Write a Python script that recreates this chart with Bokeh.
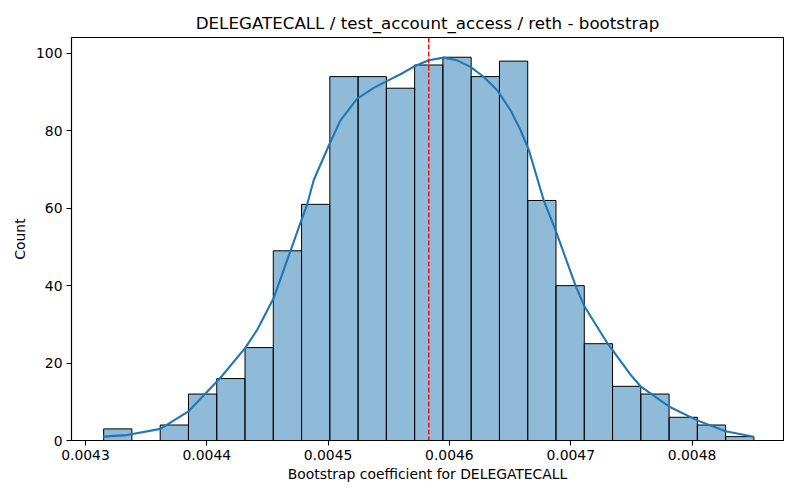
import numpy as np
from bokeh.plotting import figure
from bokeh.models import Span, FixedTicker, PrintfTickFormatter, Range1d
from bokeh.embed import file_html
from bokeh.resources import INLINE

title = "DELEGATECALL / test_account_access / reth - bootstrap"
x_label = "Bootstrap coefficient for DELEGATECALL"
y_label = "Count"

bin_lo = 0.004315
bin_hi = 0.004851
counts = [3, 0, 4, 12, 16, 24, 49, 61, 94, 94, 91, 97, 99, 94, 98, 62, 40, 25, 14, 12, 6, 4, 1]

kde_x = [0.0043146, 0.0043344, 0.0043618, 0.0043852, 0.0044113, 0.0044319, 0.0044416,
         0.0044552, 0.0044690, 0.0044781, 0.0044828, 0.0044882, 0.0045006, 0.0045102,
         0.0045240, 0.0045377, 0.0045487, 0.0045597, 0.0045707, 0.0045830, 0.0045954,
         0.0046064, 0.0046174, 0.0046284, 0.0046394, 0.0046504, 0.0046586, 0.0046655,
         0.0046778, 0.0046880, 0.0047040, 0.0047114, 0.0047301, 0.0047493, 0.0047576,
         0.0047809, 0.0048043, 0.0048276, 0.0048509]
kde_y = [1.0, 1.4, 3.0, 7.6, 16.2, 24.0, 28.6,
         36.8, 49.0, 57.0, 61.0, 67.3, 76.2, 82.7,
         88.3, 91.1, 92.9, 94.6, 96.6, 98.2, 98.9,
         98.2, 96.5, 93.9, 90.5, 85.3, 80.2, 75.0,
         62.0, 53.9, 40.0, 34.6, 25.2, 17.0, 14.0,
         8.8, 5.2, 2.4, 0.95]

mean_value = 0.004583

x_ticks = [0.0043, 0.0044, 0.0045, 0.0046, 0.0047, 0.0048]
y_ticks = [0, 20, 40, 60, 80, 100]

edges = np.linspace(bin_lo, bin_hi, len(counts) + 1)

FONT = "DejaVu Sans"

p = figure(width=784, height=484, output_backend="svg", toolbar_location=None,
           x_range=Range1d(0.0042885, 0.0048754), y_range=Range1d(0, 104.1),
           min_border_left=71, min_border_top=37, min_border_right=1, min_border_bottom=43)

p.title.text = title
p.title.align = "center"
p.title.text_font = FONT
p.title.text_font_size = "16.7px"
p.title.text_font_style = "normal"
p.title.text_color = "black"

p.quad(left=edges[:-1], right=edges[1:], top=counts, bottom=0,
       fill_color="#1f77b4", fill_alpha=0.5, line_color="black", line_width=1)

p.line(kde_x, kde_y, line_color="#1f77b4", line_width=2.1, line_join="round")

p.add_layout(Span(location=mean_value, dimension="height", line_color="red",
                  line_dash="5 2", line_width=1.4))

p.grid.visible = False
p.outline_line_color = "black"
p.outline_line_width = 1.1
p.outline_line_alpha = 1

for ax in (p.xaxis[0], p.yaxis[0]):
    ax.axis_line_width = 1.1
    ax.major_tick_out = 5
    ax.major_tick_in = 0
    ax.major_tick_line_width = 1.1
    ax.minor_tick_out = 0
    ax.minor_tick_in = 0
    ax.major_label_text_font = FONT
    ax.major_label_text_font_size = "13.9px"
    ax.major_label_text_color = "black"
    ax.axis_label_text_font = FONT
    ax.axis_label_text_font_size = "13.9px"
    ax.axis_label_text_font_style = "normal"
    ax.axis_label_text_color = "black"
    ax.major_label_standoff = 4

p.xaxis[0].ticker = FixedTicker(ticks=x_ticks)
p.xaxis[0].formatter = PrintfTickFormatter(format="%.4f")
p.xaxis[0].axis_label = x_label
p.xaxis[0].axis_label_standoff = 3
p.yaxis[0].ticker = FixedTicker(ticks=y_ticks)
p.yaxis[0].axis_label = y_label
p.yaxis[0].axis_label_standoff = 5

open("out.html", "w").write(file_html(p, INLINE))
